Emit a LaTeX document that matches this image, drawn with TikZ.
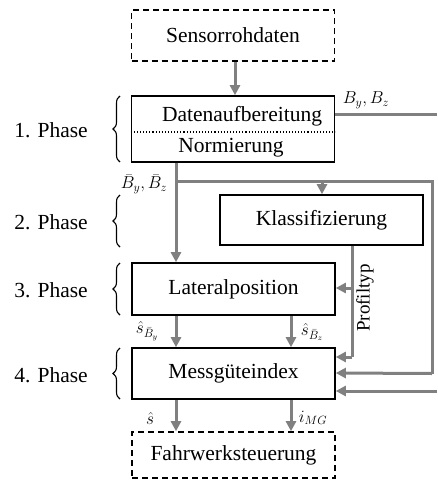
\documentclass[tikz,border=0pt]{standalone}
\usepackage{fontspec}
\setmainfont{Liberation Serif}
\usetikzlibrary{arrows.meta,decorations.pathreplacing}

\tikzset{
  block/.style={draw=black, line width=1.6pt, minimum width=203pt, inner sep=0pt},
  dashblock/.style={block, dash pattern=on 6pt off 4pt},
  flow/.style={draw=black!50, line width=3pt},
  flowarrow/.style={flow, -{Triangle[length=10pt,width=10pt]}},
  lbl/.style={font=\fontsize{17}{19}\selectfont, inner sep=0pt},
  phase/.style={font=\fontsize{21.5}{24}\selectfont, inner sep=0pt},
  phasebrace/.style={draw=black, line width=1.1pt, decorate, decoration={brace, amplitude=7pt}},
}

\begin{document}
\begin{tikzpicture}[x=1pt, y=-1pt, font=\fontsize{21.5}{24}\selectfont]
\clip (0,0) rectangle (437,482);

% blocks
\node[dashblock, minimum height=51pt] (sensor) at (233,35.5) {Sensorrohdaten};
\node[block, minimum height=66pt] (daten) at (233,129) {};
\node[inner sep=0pt] (datentxt) at (242,116) {Datenaufbereitung};
\node[inner sep=0pt] (normtxt) at (231,148) {Normierung};
\draw[black, line width=1.1pt, dotted] (daten.west |- 0,132) -- (daten.east |- 0,132);
\node[block, minimum height=50pt] (klass) at (321.5,220) {Klassifizierung};
\node[block, minimum height=52pt] (lateral) at (233.5,289) {Lateralposition};
\node[block, minimum height=51pt] (mess) at (233.5,373.5) {Messgüteindex};
\node[dashblock, minimum height=46pt] (fahr) at (233.5,455) {Fahrwerksteuerung};

% phase labels with braces
\node[phase] (p1) at (51,130) {1. Phase};
\node[phase] (p2) at (51,222) {2. Phase};
\node[phase] (p3) at (51,290) {3. Phase};
\node[phase] (p4) at (51,375) {4. Phase};
\draw[phasebrace] (120,162) -- (120,96);
\draw[phasebrace] (120,247) -- (120,195);
\draw[phasebrace] (120,315) -- (120,263);
\draw[phasebrace] (120,399) -- (120,348);

% routing points
\coordinate (bout) at (437,114);
\coordinate (bin) at (437,391);
\coordinate (split) at (176,181);
\coordinate (rcorner) at (432,181);
\coordinate (profbot) at (352,357);

% signal flow
\draw[flowarrow] (sensor.south -| 235,0) -- (daten.north -| 235,0);
\draw[flow] (daten.east |- bout) -- (bout);
\draw[flowarrow] (daten.south -| split) -- (lateral.north -| split);
\draw[flow] (split) -- (rcorner) -- (rcorner |- mess.center);
\draw[flowarrow] (rcorner |- mess.center) -- (mess.east |- 0,373);
\draw[flowarrow] (322,181) -- (klass.north -| 322,0);
\draw[flow] (klass.south -| profbot) -- (profbot);
\draw[flowarrow] (profbot) -- (mess.east |- profbot);
\draw[flowarrow] (352,288) -- (lateral.east |- 0,288);
\draw[flowarrow] (bin) -- (mess.east |- bin);
\draw[flowarrow] (lateral.south -| 176,0) -- (mess.north -| 176,0);
\draw[flowarrow] (lateral.south -| 291,0) -- (mess.north -| 291,0);
\draw[flowarrow] (mess.south -| 176,0) -- (fahr.north -| 176,0);
\draw[flowarrow] (mess.south -| 291,0) -- (fahr.north -| 291,0);

% signal labels
\node[lbl] (lb) at (366,100) {$B_y, B_z$};
\node[lbl] (lbbar) at (144,184) {$\bar{B}_y, \bar{B}_z$};
\node[lbl, rotate=90, font=\fontsize{19}{21}\selectfont] (lprof) at (365,298) {Profiltyp};
\node[lbl] (lsy) at (147,331) {$\hat{s}_{\bar{B}_y}$};
\node[lbl] (lsz) at (312,332) {$\hat{s}_{\bar{B}_z}$};
\node[lbl] (ls) at (150,418) {$\hat{s}$};
\node[lbl] (limg) at (313,418) {$i_{MG}$};
\end{tikzpicture}
\end{document}
